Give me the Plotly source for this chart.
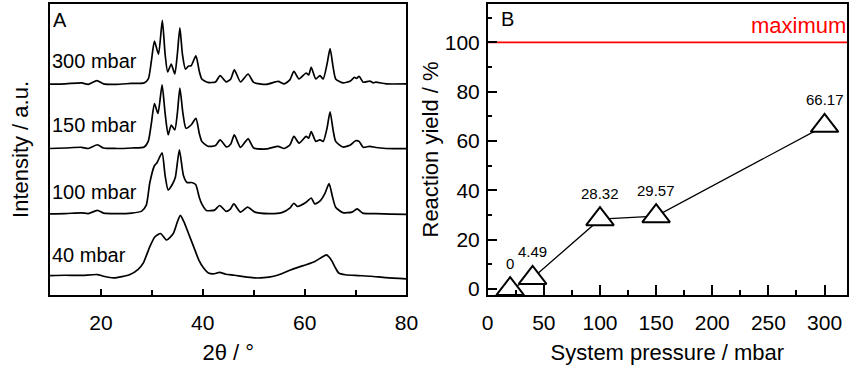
import plotly.graph_objects as go

# ---------------- Panel A: XRD patterns (2theta in degrees, intensity in a.u., offsets included)
theta_300 = [10.0, 13.0, 16.2, 17.5, 19.2, 20.5, 23.0, 26.0, 28.5, 29.3, 29.9, 30.5, 31.3, 32.05, 32.6, 33.1, 33.8, 34.5,
             35.0, 35.5, 36.0, 36.6, 37.2, 37.7, 38.65, 39.3, 39.8, 41.0, 42.5, 43.4, 44.6, 45.5, 46.2, 47.4, 48.9, 50.0,
             52.5, 54.8, 56.0, 57.1, 57.9, 58.9, 60.3, 60.8, 61.3, 62.2, 63.0, 63.65, 64.4, 65.0, 65.6, 66.1, 67.5, 69.0,
             69.8, 70.2, 70.7, 71.5, 72.8, 73.5, 74.0, 76.0, 80.0]
int_300 = [213.7, 214, 215, 213.5, 217.3, 214, 213.5, 214.5, 215, 219, 237, 257.3, 244, 278.3, 244, 226, 234, 224,
           244, 270.7, 244, 229, 232, 232.3, 242.3, 227, 219, 215.5, 216, 222.3, 216, 219, 228.3, 216, 224, 215.5,
           213.5, 216.5, 214, 218, 226.7, 219, 225, 223, 230.7, 219, 222.3, 219, 234, 249.7, 231, 219, 215, 217,
           220.7, 219.5, 221.7, 215.7, 216.7, 215, 215.7, 214, 214]

theta_150 = [10.0, 13.0, 16.2, 17.5, 19.3, 20.5, 23.0, 26.0, 28.5, 29.3, 29.9, 30.5, 31.2, 32.0, 32.6, 33.2, 33.8, 34.5,
             35.0, 35.5, 36.1, 36.7, 37.7, 38.65, 39.3, 39.8, 41.0, 42.5, 43.4, 44.7, 45.5, 46.2, 47.4, 48.9, 50.0,
             52.5, 54.8, 56.0, 57.1, 57.9, 58.9, 60.3, 60.8, 61.3, 62.2, 63.0, 63.65, 64.4, 65.0, 65.6, 66.1, 67.5,
             69.0, 70.0, 70.7, 71.5, 72.8, 74.0, 76.0, 80.0]
int_150 = [148.5, 149, 149.7, 148.5, 152.3, 149, 148.5, 149, 150, 156, 174, 194, 184, 213, 184, 162.3, 172.3, 167.3,
           184, 209.7, 184, 169, 172.3, 179, 164, 155.7, 150.7, 151.5, 157.3, 150, 153, 162.3, 149.7, 158.3, 149,
           148, 150.7, 148.5, 152, 160.7, 154, 160.7, 159, 165.7, 155.7, 157.3, 155.7, 169, 185.7, 167, 155.7, 150,
           152, 156.3, 155.7, 149.7, 150.7, 149.5, 148.5, 148.3]

theta_100 = [10.0, 13.0, 16.2, 17.5, 19.3, 20.5, 23.0, 26.0, 28.0, 28.9, 29.6, 30.5, 31.0, 32.0, 32.6, 33.2, 34.0, 34.6,
             35.4, 36.2, 36.9, 37.8, 38.6, 39.3, 39.8, 40.7, 42.3, 43.3, 44.6, 45.4, 46.1, 47.4, 48.8, 50.2, 53.0,
             55.5, 57.1, 57.9, 58.6, 60.3, 61.3, 62.0, 63.1, 64.0, 64.8, 65.5, 66.1, 67.5, 69.3, 70.3, 71.4, 74.0,
             77.0, 80.0]
int_100 = [82.3, 82.5, 83.3, 82.5, 85.7, 83, 82.5, 83, 85, 91, 114, 131, 134, 144, 121, 106.5, 112, 119,
           147, 121, 114, 114, 112, 99, 92.3, 85.7, 86, 90.7, 84.7, 87, 92.3, 84, 89, 84, 82.5,
           83.5, 88, 93, 89.7, 94, 98.3, 92.3, 95.7, 103, 113, 99, 89, 83.5, 84, 87.3, 83, 82.5,
           82, 81.7]

theta_40 = [10.0, 13.0, 16.0, 19.3, 20.5, 22.5, 25.7, 27.3, 28.3, 29.6, 30.6, 31.7, 32.9, 34.2, 35.0, 35.6, 36.3, 37.2,
            38.2, 39.2, 40.2, 41.1, 42.3, 43.3, 44.5, 46.2, 48.0, 50.1, 52.0, 53.9, 55.5, 57.1, 58.7, 60.3, 62.0,
            63.3, 64.3, 64.9, 65.4, 66.0, 66.7, 68.0, 70.5, 73.0, 76.0, 80.0]
int_40 = [19.7, 20, 19.8, 20.7, 19, 17.3, 20.7, 26, 32.3, 49, 59, 62.3, 55.7, 62.3, 74, 80.7, 74, 62.3,
          49, 35.7, 27, 22.3, 21.5, 23, 21, 20, 18.5, 17.3, 17.5, 19, 21.5, 25, 28, 30.7, 34,
          38, 40.7, 38, 34, 28, 22.3, 20.5, 19.7, 19, 17.5, 16.3]

xrd_labels = ["300 mbar", "150 mbar", "100 mbar", "40 mbar"]
xrd_label_y = [237, 172, 104, 41]

# ---------------- Panel B: reaction yield
pressure = [20, 40, 100, 150, 300]
yield_pct = [0, 4.49, 28.32, 29.57, 66.17]
yield_text = ["0", "4.49", "28.32", "29.57", "66.17"]
maximum_yield = 100

FONT = "Liberation Sans, Arial, sans-serif"
W, H = 860, 371

fig = go.Figure()

for th, it in [(theta_300, int_300), (theta_150, int_150), (theta_100, int_100), (theta_40, int_40)]:
    fig.add_trace(go.Scatter(x=th, y=it, mode="lines", line=dict(color="black", width=1.7, shape="spline", smoothing=0.6),
                             xaxis="x", yaxis="y", showlegend=False, hoverinfo="skip"))

fig.add_trace(go.Scatter(x=[0, 320], y=[maximum_yield, maximum_yield], mode="lines",
                         line=dict(color="#ff0000", width=1.6), xaxis="x2", yaxis="y2", showlegend=False))
fig.add_trace(go.Scatter(x=pressure, y=yield_pct, mode="lines+markers",
                         line=dict(color="black", width=1.3),
                         marker=dict(symbol="triangle-up", size=24, color="white", line=dict(color="black", width=2)),
                         cliponaxis=False, xaxis="x2", yaxis="y2", showlegend=False))

annotations = []
for lab, ly in zip(xrd_labels, xrd_label_y):
    annotations.append(dict(x=10, y=ly, xref="x", yref="y", text=lab, showarrow=False, xanchor="left", xshift=0,
                            yanchor="middle", font=dict(family=FONT, size=20, color="black")))
for p, v, t in zip(pressure, yield_pct, yield_text):
    annotations.append(dict(x=p, y=v, xref="x2", yref="y2", text=t, showarrow=False, yshift=26,
                            xanchor="center", yanchor="middle", font=dict(family=FONT, size=15, color="black")))
annotations.append(dict(x=320, y=maximum_yield, xref="x2", yref="y2", text="maximum", showarrow=False,
                        xanchor="right", yanchor="bottom", yshift=2, xshift=1,
                        font=dict(family=FONT, size=22, color="#ff0000")))
annotations.append(dict(x=46 / W, y=1 - 20.5 / H, xref="paper", yref="paper", text="A", showarrow=False,
                        xanchor="left", yanchor="middle", font=dict(family=FONT, size=20, color="black")))
annotations.append(dict(x=504 / W, y=1 - 19 / H, xref="paper", yref="paper", text="B", showarrow=False,
                        xanchor="left", yanchor="middle", font=dict(family=FONT, size=20, color="black")))

ydom = [1 - 299 / H, 1 - 4 / H]
axcommon = dict(showgrid=False, zeroline=False, showline=True, linecolor="black", linewidth=1.5, mirror=True,
                ticks="inside", tickcolor="black", tickwidth=1.5,
                tickfont=dict(family=FONT, size=21, color="black"))
fig.update_layout(
    width=W, height=H, margin=dict(l=0, r=0, t=0, b=0),
    paper_bgcolor="white", plot_bgcolor="white", showlegend=False,
    annotations=annotations,
    xaxis=dict(domain=[45 / W, 409 / W], range=[10, 80], dtick=20, tick0=0, ticklen=6,
               minor=dict(dtick=10, tick0=0, ticks="inside", ticklen=5, tickcolor="black", tickwidth=1.5),
               ticklabelstandoff=8,
               title=dict(text="2θ / °", font=dict(family=FONT, size=22, color="black"), standoff=12),
               anchor="y", **axcommon),
    yaxis=dict(domain=ydom, range=[0, 295], showticklabels=False, ticks="",
               showgrid=False, zeroline=False, showline=True, linecolor="black", linewidth=1.5, mirror=True,
               title=dict(text="Intensity / a.u.", font=dict(family=FONT, size=22, color="black"), standoff=14),
               anchor="x"),
    xaxis2=dict(domain=[492 / W, 859 / W], range=[0, 320], dtick=50, tick0=0, ticklen=10,
                minor=dict(dtick=25, tick0=0, ticks="inside", ticklen=5, tickcolor="black", tickwidth=1.5),
                ticklabelstandoff=8,
                title=dict(text="System pressure / mbar", font=dict(family=FONT, size=22, color="black"), standoff=12),
                anchor="y2", **axcommon),
    yaxis2=dict(domain=ydom, range=[-2.4, 115.6], dtick=20, tick0=0, ticklen=10,
                minor=dict(dtick=10, tick0=0, ticks="inside", ticklen=5, tickcolor="black", tickwidth=1.5),
                ticklabelstandoff=2,
                title=dict(text="Reaction yield / %", font=dict(family=FONT, size=22, color="black"), standoff=0),
                anchor="x2", **axcommon),
)

fig.write_html("out.html")
